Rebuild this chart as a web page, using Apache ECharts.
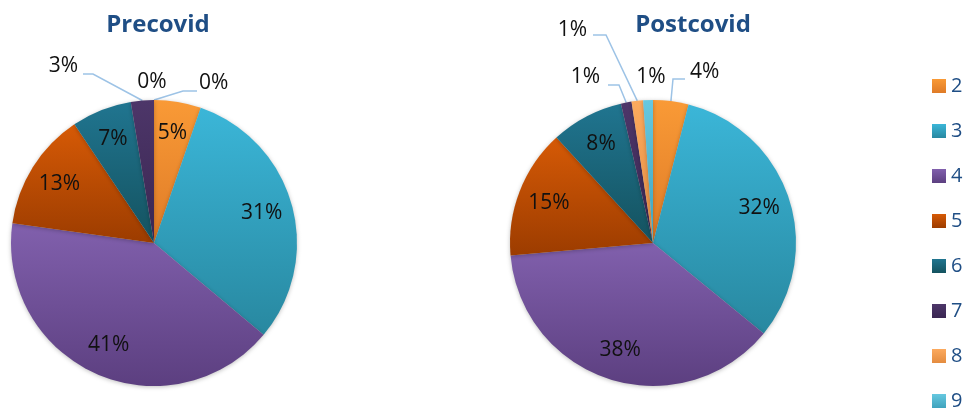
<!DOCTYPE html>
<html>
<head>
<meta charset="utf-8">
<script src="https://cdn.jsdelivr.net/npm/echarts@6/dist/echarts.min.js"></script>
<style>
  html, body { margin: 0; padding: 0; background: #fff; }
  #chart { width: 966px; height: 409px; }
</style>
</head>
<body>
<div id="chart"></div>
<script>
const categories = ['2', '3', '4', '5', '6', '7', '8', '9'];
const precovid = [5.3, 30.8, 41.1, 13.4, 6.8, 2.6, 0, 0];
const postcovid = [4.0, 31.9, 37.7, 14.6, 8.2, 1.2, 1.3, 1.1];
const pieTitles = ['Precovid', 'Postcovid'];

// gradient per slice, top -> bottom
const sliceColors = [
  ['#f99a36', '#df7b27'],
  ['#3bb6d8', '#2888a0'],
  ['#8160ad', '#5c3f80'],
  ['#d65a06', '#9c3c00'],
  ['#207590', '#14525f'],
  ['#4d3669', '#3a2652'],
  ['#fcaa5e', '#e48c3f'],
  ['#66c8e0', '#3fa3bd']
];

// small slices get their label outside, placed like in excel
const outsideLabels = [
  {
    '7': { x: 78, y: 66, align: 'right', line: [[93, 74], [83, 74]] },
    '8': { x: 199, y: 83, align: 'left', line: [[183, 91], [197, 91]] },
    '9': { x: 152, y: 82, align: 'center' }
  },
  {
    '2': { x: 690, y: 72, align: 'left', line: [[673, 79], [685, 79]] },
    '7': { x: 600, y: 77, align: 'right', line: [[619, 85], [608, 85]] },
    '8': { x: 587, y: 30, align: 'right', line: [[606, 35], [593, 35]] },
    '9': { x: 651, y: 77, align: 'center' }
  }
];

const centers = [[154, 243], [653, 243]];
const titleX = [153, 688];
const R = 143;
const font = 'Open Sans';

const chart = echarts.init(document.getElementById('chart'));

function pct(p) {
  return Math.round(p.percent) + '%';
}

function fill(i) {
  return new echarts.graphic.LinearGradient(0, 0, 0, 1, [
    { offset: 0, color: sliceColors[i][0] },
    { offset: 1, color: sliceColors[i][1] }
  ]);
}

function buildSeries(values, k) {
  const outside = outsideLabels[k];
  const main = {
    type: 'pie',
    center: centers[k],
    radius: R,
    startAngle: 90,
    clockwise: true,
    silent: true,
    animation: false,
    minShowLabelAngle: -1,
    itemStyle: { shadowBlur: 4, shadowOffsetY: 1, shadowColor: 'rgba(0,0,0,0.25)' },
    label: {
      position: 'outside',
      formatter: pct,
      fontFamily: font,
      fontSize: 21,
      color: '#111'
    },
    labelLine: { lineStyle: { color: '#9dc3e6', width: 1.5 } },
    labelLayout: function (p) {
      const spec = outside[categories[p.dataIndex]];
      if (!spec) return {};
      const out = { x: spec.x, y: spec.y, align: spec.align, verticalAlign: 'middle', hideOverlap: false, moveOverlap: false };
      if (spec.line && p.labelLinePoints) {
        out.labelLinePoints = [p.labelLinePoints[0], spec.line[0], spec.line[1]];
      }
      return out;
    },
    data: values.map((v, i) => {
      const spec = outside[categories[i]];
      return {
        name: categories[i],
        value: v,
        itemStyle: { color: fill(i) },
        label: { show: !!spec },
        labelLine: { show: !!(spec && spec.line) }
      };
    })
  };
  // transparent ring that only carries the inside labels
  const inner = {
    type: 'pie',
    center: centers[k],
    radius: [R * 0.52, R],
    startAngle: 90,
    clockwise: true,
    silent: true,
    animation: false,
    itemStyle: { color: 'rgba(0,0,0,0)' },
    label: {
      position: 'inside',
      formatter: pct,
      fontFamily: font,
      fontSize: 21,
      color: '#111'
    },
    labelLine: { show: false },
    data: values.map((v, i) => ({
      name: categories[i],
      value: v,
      label: { show: !outside[categories[i]] }
    }))
  };
  return [main, inner];
}

chart.setOption({
  backgroundColor: '#fff',
  title: pieTitles.map((t, k) => ({
    text: t,
    left: titleX[k],
    top: 8,
    textAlign: 'center',
    textStyle: { fontFamily: font, fontSize: 24, fontWeight: 'bold', color: '#1f4e85' }
  })),
  legend: {
    orient: 'vertical',
    left: 932,
    top: 76,
    height: 340,
    padding: 0,
    itemWidth: 14,
    itemHeight: 14,
    itemGap: 25,
    icon: 'rect',
    data: categories,
    selectedMode: false,
    textStyle: { fontFamily: font, fontSize: 20, color: '#1f4e85' }
  },
  series: [...buildSeries(precovid, 0), ...buildSeries(postcovid, 1)]
});
</script>
</body>
</html>
